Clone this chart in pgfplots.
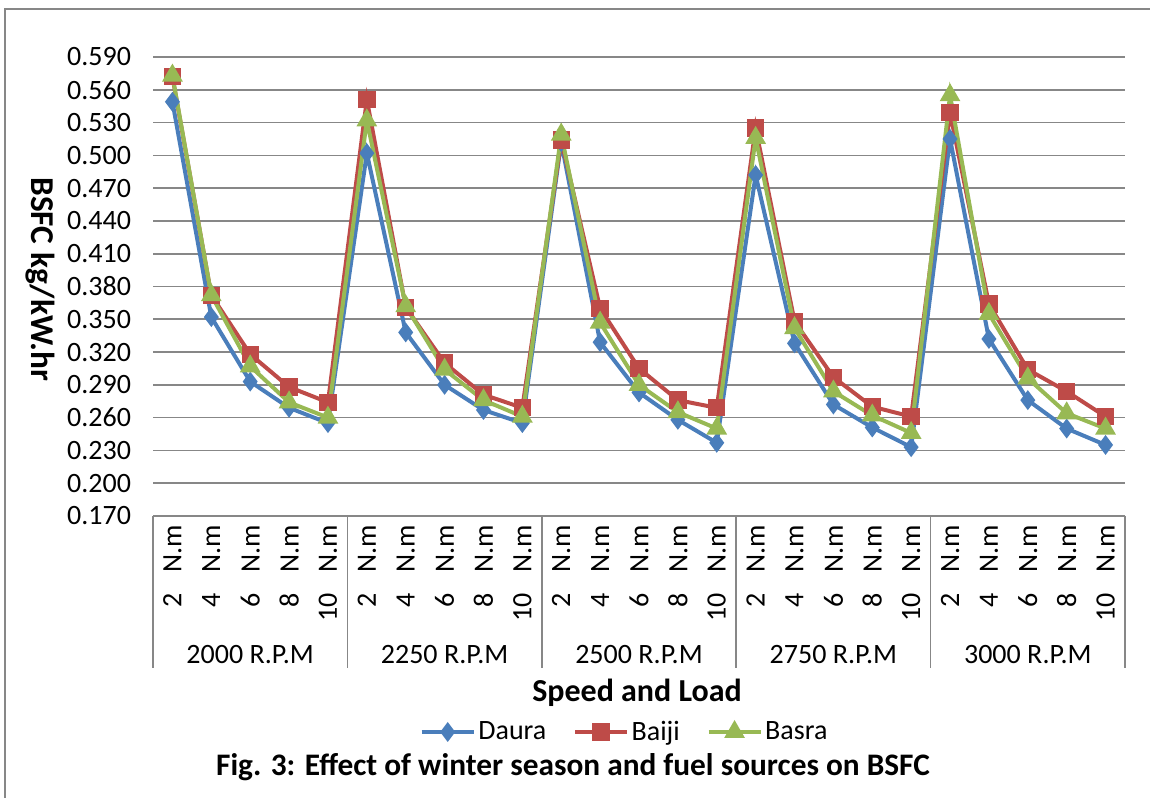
\documentclass[border=0pt]{standalone}
\usepackage{pgfplots}
\pgfplotsset{compat=1.18}
\usepackage{fontspec}
\setmainfont{Carlito}
\definecolor{cDaura}{HTML}{4A7EBB}
\definecolor{cBaiji}{HTML}{BE4B48}
\definecolor{cBasra}{HTML}{98B954}
\definecolor{cGrid}{HTML}{878787}
\newcommand{\tickfont}{\fontsize{21}{23}\selectfont}
\newcommand{\nm}[1]{#1\hspace{0.75em}N.m}
\begin{document}
\begin{tikzpicture}
\path[use as bounding box] (0,0) rectangle (862.5pt,598.5pt);
\begin{scope}
\clip (0,0) rectangle (862.5pt,598.5pt);
\draw[cGrid, line width=1.5pt] (3.75pt,-20pt) rectangle (890pt,591.75pt);
\end{scope}
\begin{axis}[
  at={(114.75pt,211.5pt)}, anchor=south west,
  scale only axis, width=729pt, height=344.25pt,
  xmin=-0.5, xmax=24.5, ymin=0.17, ymax=0.59,
  clip=false,
  axis line style={draw=none},
  major tick length=0pt,
  xtick={0,...,24},
  xticklabels={\nm{2},\nm{4},\nm{6},\nm{8},\nm{10},\nm{2},\nm{4},\nm{6},\nm{8},\nm{10},\nm{2},\nm{4},\nm{6},\nm{8},\nm{10},\nm{2},\nm{4},\nm{6},\nm{8},\nm{10},\nm{2},\nm{4},\nm{6},\nm{8},\nm{10}},
  xticklabel style={rotate=90, anchor=east, font=\tickfont, xshift=-3pt},
  ytick={0.17,0.2,0.23,0.26,0.29,0.32,0.35,0.38,0.41,0.44,0.47,0.5,0.53,0.56,0.59},
  yticklabels={0.170,0.200,0.230,0.260,0.290,0.320,0.350,0.380,0.410,0.440,0.470,0.500,0.530,0.560,0.590},
  yticklabel style={anchor=east, xshift=-13pt, font=\tickfont},
  ymajorgrids, grid style={cGrid, line width=1.2pt},
  every axis plot/.append style={line width=3pt},
  legend style={draw=none, fill=none, legend columns=3, font=\tickfont,
    at={(0.4855,-0.4706)}, anchor=center,
    /tikz/every even column/.append style={column sep=18pt}},
  legend image code/.code={\draw[#1, mark repeat=2, mark phase=2] plot coordinates {(0pt,0pt) (19.5pt,0pt) (39pt,0pt)};},
]
\addplot[color=cDaura, mark=diamond*, mark size=5pt, mark options={solid}] coordinates {
(0,0.549)(1,0.352)(2,0.293)(3,0.269)(4,0.255)
(5,0.502)(6,0.338)(7,0.290)(8,0.267)(9,0.255)
(10,0.512)(11,0.329)(12,0.283)(13,0.258)(14,0.237)
(15,0.482)(16,0.328)(17,0.272)(18,0.251)(19,0.233)
(20,0.515)(21,0.332)(22,0.276)(23,0.250)(24,0.235)};
\addlegendentry{Daura}
\addplot[color=cBaiji, mark=square*, mark size=5pt] coordinates {
(0,0.572)(1,0.372)(2,0.318)(3,0.288)(4,0.274)
(5,0.551)(6,0.361)(7,0.310)(8,0.281)(9,0.269)
(10,0.514)(11,0.360)(12,0.305)(13,0.276)(14,0.269)
(15,0.525)(16,0.348)(17,0.297)(18,0.270)(19,0.261)
(20,0.539)(21,0.364)(22,0.304)(23,0.284)(24,0.261)};
\addlegendentry{Baiji}
\addplot[color=cBasra, mark=triangle*, mark size=6pt] coordinates {
(0,0.573)(1,0.372)(2,0.307)(3,0.274)(4,0.260)
(5,0.532)(6,0.362)(7,0.304)(8,0.276)(9,0.261)
(10,0.519)(11,0.347)(12,0.290)(13,0.265)(14,0.250)
(15,0.516)(16,0.342)(17,0.284)(18,0.262)(19,0.246)
(20,0.555)(21,0.355)(22,0.296)(23,0.264)(24,0.250)};
\addlegendentry{Basra}
% category table lines
\draw[cGrid, line width=1.2pt] (axis cs:-0.5,0.17) -- (axis cs:24.5,0.17);
\pgfplotsinvokeforeach{-0.5,4.5,9.5,14.5,19.5,24.5}{
  \draw[cGrid, line width=1.2pt] (axis cs:#1,0.17) -- ([yshift=-114pt]axis cs:#1,0.17);
}
\node[font=\tickfont] at ([yshift=-104.25pt]axis cs:2,0.17) {2000 R.P.M};
\node[font=\tickfont] at ([yshift=-104.25pt]axis cs:7,0.17) {2250 R.P.M};
\node[font=\tickfont] at ([yshift=-104.25pt]axis cs:12,0.17) {2500 R.P.M};
\node[font=\tickfont] at ([yshift=-104.25pt]axis cs:17,0.17) {2750 R.P.M};
\node[font=\tickfont] at ([yshift=-104.25pt]axis cs:22,0.17) {3000 R.P.M};
\end{axis}
\node[font=\fontsize{24}{26}\selectfont\bfseries] at (477.75pt,78.75pt) {Speed and Load};
\node[font=\fontsize{25}{27}\selectfont\bfseries, rotate=-90] at (30pt,389pt) {BSFC kg/kW.hr};
\node[font=\fontsize{23.5}{25}\selectfont\bfseries] at (429.75pt,23.25pt) {Fig. 3: Effect of winter season and fuel sources on BSFC};
\end{tikzpicture}
\end{document}
